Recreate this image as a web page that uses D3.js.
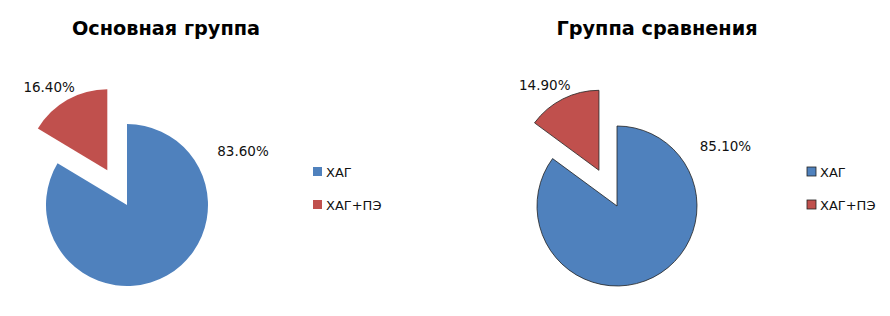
<!DOCTYPE html>
<html>
<head>
<meta charset="utf-8">
<script src="https://cdn.jsdelivr.net/npm/d3@7"></script>
<style>
  body { margin: 0; background: #fff; }
  text { font-family: "DejaVu Sans", Verdana, sans-serif; }
</style>
</head>
<body>
<div id="chart-area"></div>
<script>
// data
var categories = ["ХАГ", "ХАГ+ПЭ"];
var titles = ["Основная группа", "Группа сравнения"];
var mainValues = [83.6, 16.4];
var compareValues = [85.1, 14.9];

var colors = d3.scaleOrdinal().domain(categories).range(["#4F81BD", "#C0504D"]);

var svg = d3.select("#chart-area").append("svg")
    .attr("width", 890)
    .attr("height", 316);

// one block per pie
var panels = [
    {title: titles[0], values: mainValues, cx: 127, cy: 205, r: 81, titleX: 166, legendX: 313, outline: false,
     labelAngle: 65, labelR: 128},
    {title: titles[1], values: compareValues, cx: 617, cy: 206, r: 80, titleX: 657, legendX: 807, outline: true,
     labelAngle: 61, labelR: 124}
];

var pie = d3.pie().sort(null).value(d => d.value);
var explode = 40;

panels.forEach(p => {
    var data = categories.map((c, i) => ({name: c, value: p.values[i]}));
    var arcs = pie(data);
    var arc = d3.arc().innerRadius(0).outerRadius(p.r);

    var g = svg.append("g");

    g.append("text")
        .attr("x", p.titleX)
        .attr("y", 35)
        .attr("text-anchor", "middle")
        .attr("font-size", 19.3)
        .attr("font-weight", "bold")
        .text(p.title);

    var pg = g.append("g").attr("transform", "translate(" + p.cx + "," + p.cy + ")");

    arcs.forEach((a, i) => {
        var off = [0, 0];
        if (i == 1) {
            var mid = (a.startAngle + a.endAngle) / 2;
            off = d3.pointRadial(mid, explode);
        }
        pg.append("path")
            .attr("d", arc(a))
            .attr("transform", "translate(" + off[0] + "," + off[1] + ")")
            .attr("fill", colors(a.data.name))
            .attr("stroke", p.outline ? "#222" : "none")
            .attr("stroke-width", p.outline ? 0.8 : 0);

        var pos;
        if (i == 0) {
            pos = d3.pointRadial(p.labelAngle * Math.PI / 180, p.labelR);
        } else {
            pos = d3.pointRadial((a.startAngle + a.endAngle) / 2 - 0.07, 141);
        }
        pg.append("text")
            .attr("x", pos[0])
            .attr("y", pos[1])
            .attr("dy", "0.35em")
            .attr("text-anchor", "middle")
            .attr("font-size", 13.5)
            .attr("fill", "#111")
            .text(a.data.value.toFixed(2) + "%");
    });

    // legend
    var legY = d3.scalePoint().domain(categories).range([172, 205]);
    categories.forEach(c => {
        g.append("rect")
            .attr("x", p.legendX)
            .attr("y", legY(c) - 5)
            .attr("width", 9)
            .attr("height", 9)
            .attr("fill", colors(c))
            .attr("stroke", p.outline ? "#222" : "none")
            .attr("stroke-width", p.outline ? 0.8 : 0);
        g.append("text")
            .attr("x", p.legendX + 13)
            .attr("y", legY(c))
            .attr("dy", "0.35em")
            .attr("font-size", 13)
            .attr("fill", "#111")
            .text(c);
    });
});
</script>
</body>
</html>
